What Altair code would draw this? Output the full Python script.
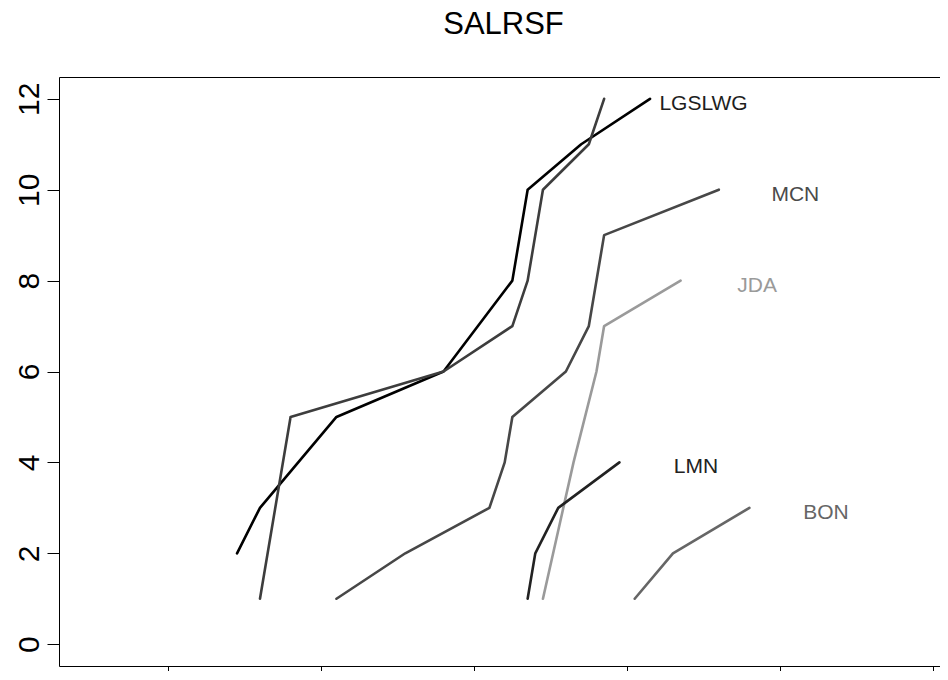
import altair as alt
import pandas as pd

# ---- data ----
series_names = ["LWG", "LGS", "MCN", "JDA", "LMN", "BON"]

lwg_x = [4.5, 6, 11, 18, 22.5, 23.5, 27, 31.5]
lwg_y = [2, 3, 5, 6, 8, 10, 11, 12]

lgs_x = [6, 8, 18, 22.5, 23.5, 24.5, 27.5, 28.5]
lgs_y = [1, 5, 6, 7, 8, 10, 11, 12]

mcn_x = [11, 15.5, 21, 22, 22.5, 26, 27.5, 28.5, 36]
mcn_y = [1, 2, 3, 4, 5, 6, 7, 9, 10]

jda_x = [24.5, 26.5, 28, 28.5, 33.5]
jda_y = [1, 4, 6, 7, 8]

lmn_x = [23.5, 24, 25.5, 29.5]
lmn_y = [1, 2, 3, 4]

bon_x = [30.5, 33, 38]
bon_y = [1, 2, 3]

label_text = ["LGSLWG", "MCN", "JDA", "LMN", "BON"]
label_x = [35, 41, 38.5, 34.5, 43]
label_y = [12, 10, 8, 4, 3]

x_ticks = [0, 10, 20, 30, 40, 50]
y_ticks = [0, 2, 4, 6, 8, 10, 12]

# ---- styles ----
line_colors = {"LWG": "#000000", "LGS": "#3d3d3d", "MCN": "#474747",
               "JDA": "#9a9a9a", "LMN": "#222222", "BON": "#666666"}
label_colors = {"LGSLWG": "#1e1e1e", "MCN": "#4a4a4a", "JDA": "#9a9a9a",
                "LMN": "#222222", "BON": "#666666"}

rows = []
for name, xs, ys in [("LWG", lwg_x, lwg_y), ("LGS", lgs_x, lgs_y),
                     ("MCN", mcn_x, mcn_y), ("JDA", jda_x, jda_y),
                     ("LMN", lmn_x, lmn_y), ("BON", bon_x, bon_y)]:
    for i, (xv, yv) in enumerate(zip(xs, ys)):
        rows.append({"series": name, "x": xv, "y": yv, "ord": i})
df = pd.DataFrame(rows)
lab = pd.DataFrame({"label": label_text, "x": label_x, "y": label_y})

FONT = "Liberation Sans"
xscale = alt.Scale(domain=[-7.14, 50.46], nice=False, zero=False)
yscale = alt.Scale(domain=[-0.48, 12.48], nice=False, zero=False)

yaxis = alt.Axis(values=y_ticks, labelAngle=270, labelAlign="center",
                 labelBaseline="alphabetic", labelPadding=9, labelFontSize=30,
                 labelFont=FONT, labelColor="#000000", tickSize=12,
                 tickColor="#000000", domainColor="#000000", grid=False,
                 title=None, labelFlush=False, labelOverlap=False)

lines = alt.Chart(df).mark_line(strokeWidth=2.6, strokeCap="round",
                                strokeJoin="round").encode(
    x=alt.X("x:Q", scale=xscale,
            axis=alt.Axis(orient="bottom", values=x_ticks, labels=False,
                          tickSize=20, tickColor="#000000",
                          domainColor="#000000", grid=False, title=None)),
    y=alt.Y("y:Q", scale=yscale, axis=yaxis),
    color=alt.Color("series:N",
                    scale=alt.Scale(domain=series_names,
                                    range=[line_colors[s] for s in series_names]),
                    legend=None),
    order="ord:Q",
)

texts = alt.Chart(lab).mark_text(fontSize=21, font=FONT, align="center",
                                 baseline="alphabetic", dy=11).encode(
    x=alt.X("x:Q", scale=xscale,
            axis=alt.Axis(orient="top", labels=False, ticks=False,
                          domainColor="#000000", grid=False, title=None)),
    y=alt.Y("y:Q", scale=yscale, axis=yaxis),
    text="label:N",
    color=alt.Color("label:N",
                    scale=alt.Scale(domain=label_text,
                                    range=[label_colors[t] for t in label_text]),
                    legend=None),
)

chart = alt.layer(lines, texts).resolve_scale(color="independent").resolve_axis(
    x="independent"
).properties(
    width=881, height=589,
    title=alt.TitleParams("SALRSF", fontSize=31, font=FONT, fontWeight="normal",
                          color="#000000", anchor="middle", baseline="bottom",
                          offset=5, dx=4),
    autosize=alt.AutoSizeParams(type="none"),
    padding={"left": 51, "top": 69, "right": 0, "bottom": 5},
).configure_view(stroke=None).configure(background="white")

chart.save("out.html", embed_options={"renderer": "svg", "actions": False})
